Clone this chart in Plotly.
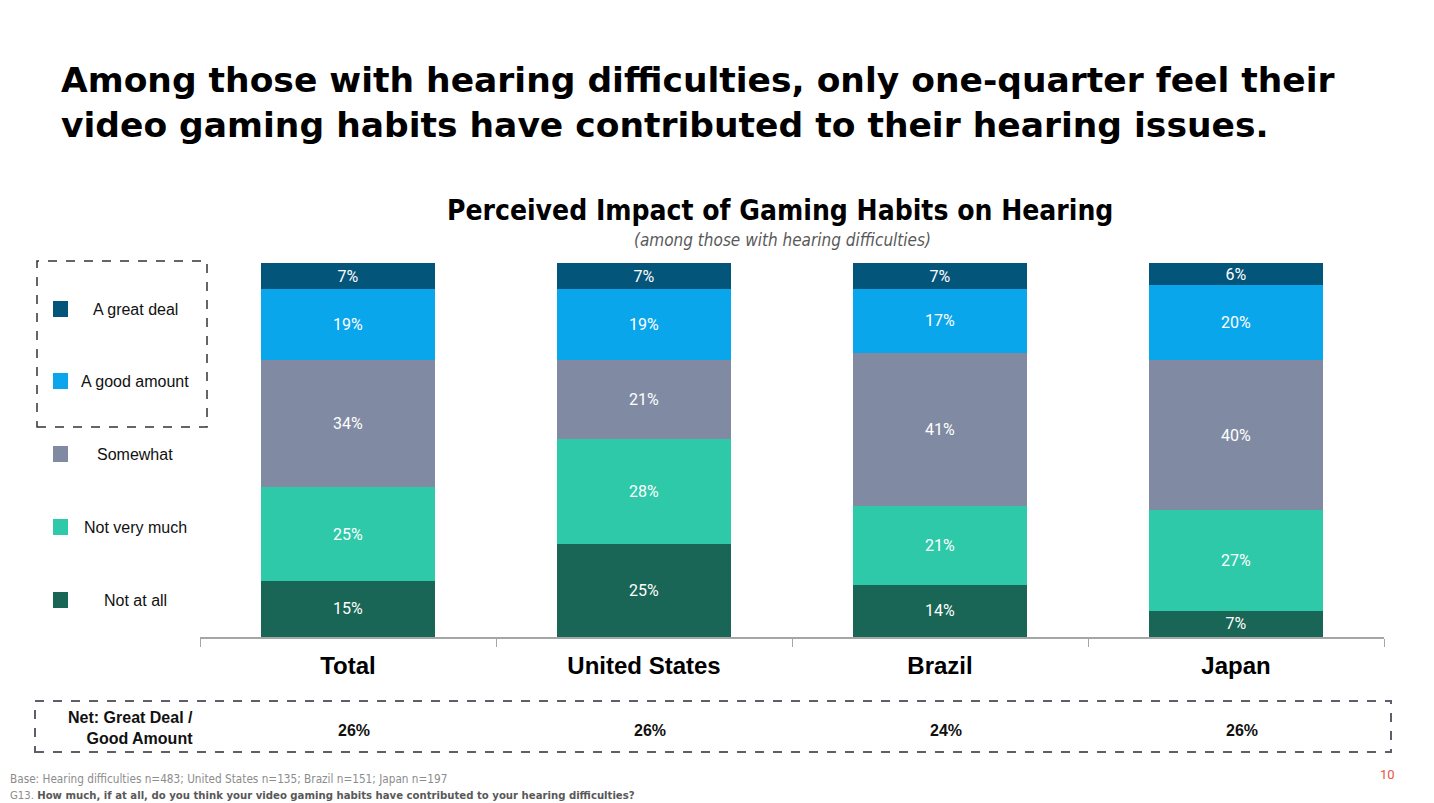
import plotly.graph_objects as go

# page offset of 8px (body margin) compensated
OFF = 8
W, H = 1434 - OFF * 2, 803 - OFF

categories = ["Total", "United States", "Brazil", "Japan"]
series_names = ["Not at all", "Not very much", "Somewhat", "A good amount", "A great deal"]
not_at_all = [15, 25, 14, 7]
not_very_much = [25, 28, 21, 27]
somewhat = [34, 21, 41, 40]
good_amount = [19, 19, 17, 20]
great_deal = [7, 7, 7, 6]
net_values = [26, 26, 24, 26]
colors = ["#196656", "#2ec9a8", "#808ba3", "#0aa6ec", "#04557a"]

series_values = [not_at_all, not_very_much, somewhat, good_amount, great_deal]

NARROW = "DejaVu Sans Condensed, Liberation Sans, Arial"

def px(x):
    return (x - OFF) / W

def py(y):
    return 1 - (y - OFF) / H

fig = go.Figure()
for name, vals, col in zip(series_names, series_values, colors):
    fig.add_trace(go.Bar(
        x=categories, y=vals, name=name, marker=dict(color=col, line=dict(width=0)),
        width=0.59, text=[f"{v}%" for v in vals], textposition="inside",
        insidetextanchor="middle", textangle=0, constraintext="none",
        textfont=dict(family="Roboto", size=16, color="white"),
        hoverinfo="skip", showlegend=False,
    ))

shapes = []
annotations = []

# legend (custom, vertical)
legend_order = ["A great deal", "A good amount", "Somewhat", "Not very much", "Not at all"]
legend_y = [309, 381, 454, 527, 600]
for name, yy in zip(legend_order, legend_y):
    col = colors[series_names.index(name)]
    shapes.append(dict(type="rect", xref="paper", yref="paper",
                       x0=px(53), x1=px(68), y0=py(yy + 8), y1=py(yy - 8),
                       fillcolor=col, line=dict(width=0)))
    annotations.append(dict(text=name, xref="paper", yref="paper", x=px(135), y=py(yy),
                            xanchor="center", yanchor="middle", showarrow=False,
                            font=dict(family="Liberation Sans, Arial", size=16, color="#111111")))

shapes.append(dict(type="rect", xref="paper", yref="paper", x0=px(37), x1=px(207),
                   y0=py(427), y1=py(261), line=dict(color="#333333", width=1.5, dash="dash")))

# net box
shapes.append(dict(type="rect", xref="paper", yref="paper", x0=px(35), x1=px(1391),
                   y0=py(752), y1=py(701), line=dict(color="#5f5f6a", width=2, dash="dash")))
annotations.append(dict(text="<b>Net: Great Deal /<br>Good Amount</b>", xref="paper", yref="paper",
                        x=px(195), y=py(728), xanchor="right", yanchor="middle", align="right",
                        showarrow=False,
                        font=dict(family="Liberation Sans, Arial", size=16, color="#111111")))
for cat, v in zip(categories, net_values):
    annotations.append(dict(text=f"<b>{v}%</b>", xref="x", yref="paper", x=cat, y=py(730),
                            xshift=6, xanchor="center", yanchor="middle", showarrow=False,
                            font=dict(family="Liberation Sans, Arial", size=16, color="#111111")))

# main title
annotations.append(dict(text="Among those with hearing difficulties, only one-quarter feel their<br>"
                             "video gaming habits have contributed to their hearing issues.",
                        xref="paper", yref="paper", x=px(59), y=py(103), xanchor="left", yanchor="middle",
                        align="left", showarrow=False,
                        font=dict(family="DejaVu Sans", size=34.5, color="#000000", weight="bold")))
# chart title
annotations.append(dict(text="<b>Perceived Impact of Gaming Habits on Hearing</b>", xref="paper", yref="paper",
                        x=px(780), y=py(211), xanchor="center", yanchor="middle", showarrow=False,
                        font=dict(family=NARROW, size=28, color="#000000")))
annotations.append(dict(text="<i>(among those with hearing difficulties)</i>", xref="paper", yref="paper",
                        x=px(782), y=py(240), xanchor="center", yanchor="middle", showarrow=False,
                        font=dict(family=NARROW, size=17, color="#595959")))

# footer
annotations.append(dict(text="Base: Hearing difficulties n=483; United States n=135; Brazil n=151; Japan n=197",
                        xref="paper", yref="paper", x=px(8), y=py(779), xanchor="left", yanchor="middle",
                        showarrow=False,
                        font=dict(family=NARROW, size=11.7, color="#8c8c8c")))
annotations.append(dict(text="G13. <b><span style='color:#595959'>How much, if at all, do you think your video gaming habits have contributed to your hearing difficulties?</span></b>",
                        xref="paper", yref="paper", x=px(8), y=py(795), xanchor="left", yanchor="middle",
                        showarrow=False,
                        font=dict(family=NARROW, size=11.25, color="#8c8c8c")))
annotations.append(dict(text="10", xref="paper", yref="paper", x=px(1387), y=py(774),
                        xanchor="center", yanchor="middle", showarrow=False,
                        font=dict(family="Roboto", size=13, color="#e8533f")))

fig.update_layout(
    width=W, height=H, barmode="stack",
    margin=dict(l=0, r=0, t=0, b=0),
    paper_bgcolor="white", plot_bgcolor="white",
    shapes=shapes, annotations=annotations,
    xaxis=dict(domain=[px(200), px(1384)], type="category", tickson="boundaries",
               ticks="outside", ticklen=8, tickcolor="#a6a6a6", showline=True,
               linecolor="#a6a6a6", linewidth=1.5, showgrid=False, zeroline=False,
               ticklabelstandoff=6,
               tickfont=dict(family="Liberation Sans, Arial", size=24, color="#000000", weight="bold"),
               fixedrange=True),
    yaxis=dict(domain=[py(637), py(263)], range=[0, 100], visible=False, showgrid=False,
               fixedrange=True),
)

fig.write_html("out.html")
